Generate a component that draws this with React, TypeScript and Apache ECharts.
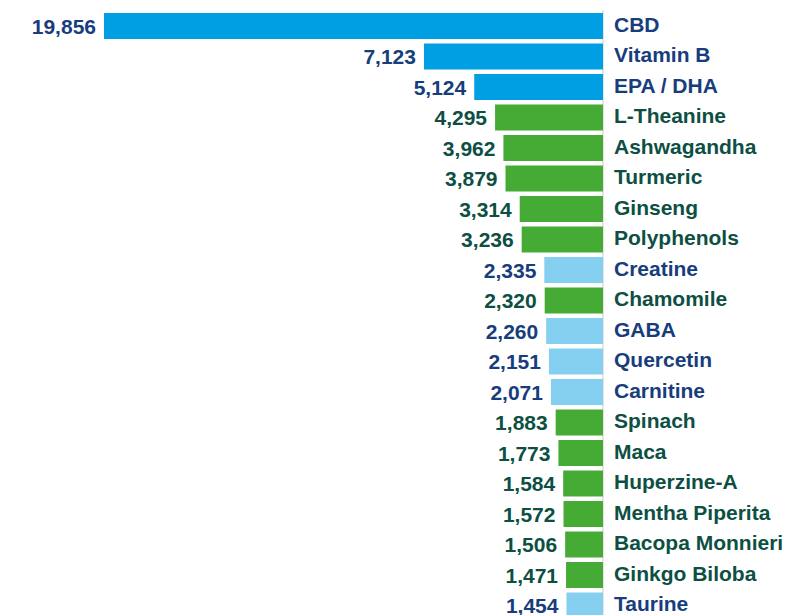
import React, { useEffect, useRef } from "react";
import * as echarts from "echarts";

const categories = [
  "CBD", "Vitamin B", "EPA / DHA", "L-Theanine", "Ashwagandha", "Turmeric", "Ginseng",
  "Polyphenols", "Creatine", "Chamomile", "GABA", "Quercetin", "Carnitine", "Spinach",
  "Maca", "Huperzine-A", "Mentha Piperita", "Bacopa Monnieri", "Ginkgo Biloba", "Taurine",
];
const values = [
  19856, 7123, 5124, 4295, 3962, 3879, 3314, 3236, 2335, 2320, 2260, 2151, 2071, 1883,
  1773, 1584, 1572, 1506, 1471, 1454,
];
// group: b = blue, g = green, l = light blue
const groups = [
  "b", "b", "b", "g", "g", "g", "g", "g", "l", "g", "l", "l", "l", "g", "g", "g", "g", "g", "g", "l",
];

const barColor: Record<string, string> = { b: "#009FE3", g: "#45AB35", l: "#85CFF0" };
const textColor: Record<string, string> = { b: "#173D7D", g: "#0D4F43", l: "#173D7D" };

const FONT = "'Liberation Sans', Arial, sans-serif";

const richStyle = (c: string) => ({
  color: c,
  fontFamily: FONT,
  fontWeight: "bold",
  fontSize: 21,
  padding: [0, 0, 4, 0],
});

export default function App() {
  const ref = useRef<HTMLDivElement>(null);
  useEffect(() => {
    if (!ref.current) return;
    const chart = echarts.init(ref.current, undefined, { renderer: "svg" });
    chart.setOption({
      animation: false,
      grid: { left: 104, right: 185, top: 10.75, height: 610, containLabel: false },
      xAxis: {
        type: "value",
        inverse: true,
        min: 0,
        max: 19856,
        show: false,
      },
      yAxis: {
        type: "category",
        data: categories,
        inverse: true,
        position: "right",
        axisLine: { show: true, lineStyle: { color: "#dddddd", width: 1.5 } },
        axisTick: { show: false },
        axisLabel: {
          margin: 11,
          align: "left",
          fontFamily: FONT,
          fontWeight: "bold",
          fontSize: 21,
          formatter: (v: string, i: number) => `{${groups[i]}|${v}}`,
          rich: {
            b: richStyle(textColor.b),
            g: richStyle(textColor.g),
            l: richStyle(textColor.l),
          },
        },
      },
      series: [
        {
          type: "bar",
          barWidth: 26,
          data: values.map((v, i) => ({
            value: v,
            itemStyle: { color: barColor[groups[i]] },
            label: { color: textColor[groups[i]] },
          })),
          label: {
            show: true,
            position: "left",
            distance: 8,
            fontFamily: FONT,
            fontWeight: "bold",
            fontSize: 21,
            formatter: (p: any) => Number(p.value).toLocaleString("en-US"),
          },
        },
      ],
    });
    return () => chart.dispose();
  }, []);
  return (
    <div
      ref={ref}
      style={{ position: "fixed", left: 0, top: 0, width: 788, height: 630, background: "#fff" }}
    />
  );
}
